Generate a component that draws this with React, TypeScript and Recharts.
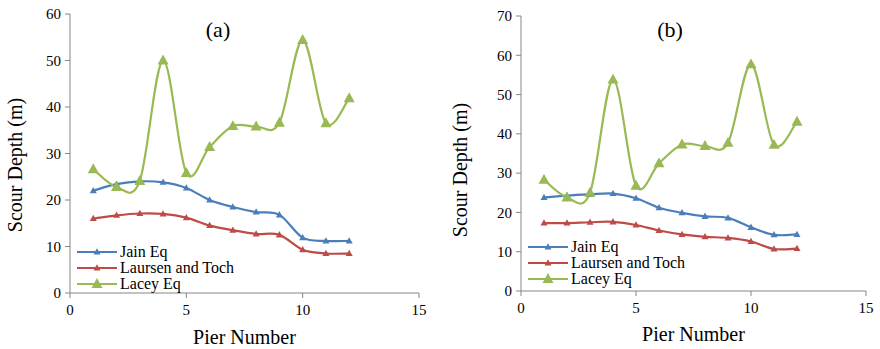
import React from 'react';
import { LineChart, Line, XAxis, YAxis, Legend } from 'recharts';

// pier index on the x axis
const PIERS = [1, 2, 3, 4, 5, 6, 7, 8, 9, 10, 11, 12];

// panel (a)
const JAIN_A = [22.0, 23.4, 24.0, 23.8, 22.6, 20.0, 18.5, 17.4, 16.8, 11.9, 11.2, 11.2];
const LAURSEN_A = [16.0, 16.7, 17.1, 17.0, 16.2, 14.5, 13.5, 12.7, 12.5, 9.3, 8.5, 8.5];
const LACEY_A = [26.6, 22.8, 24.1, 50.0, 25.8, 31.4, 35.9, 35.8, 36.6, 54.4, 36.5, 41.9];

// panel (b)
const JAIN_B = [23.8, 24.3, 24.6, 24.8, 23.6, 21.2, 19.9, 19.0, 18.6, 16.2, 14.3, 14.4];
const LAURSEN_B = [17.3, 17.3, 17.5, 17.6, 16.8, 15.4, 14.4, 13.8, 13.5, 12.6, 10.7, 10.8];
const LACEY_B = [28.3, 23.8, 25.0, 53.8, 26.8, 32.5, 37.3, 36.9, 37.7, 57.7, 37.2, 43.1];

const X_TICKS = [0, 5, 10, 15];
const Y_TICKS_A = [0, 10, 20, 30, 40, 50, 60];
const Y_TICKS_B = [0, 10, 20, 30, 40, 50, 60, 70];

const SERIES = [
  { key: 'jain', name: 'Jain Eq', color: '#4a7ebb', size: 7 },
  { key: 'laursen', name: 'Laursen and Toch', color: '#be4b48', size: 7 },
  { key: 'lacey', name: 'Lacey Eq', color: '#98b954', size: 11 },
];

const FONT = "'Liberation Serif', serif";

const buildRows = (jain: number[], laursen: number[], lacey: number[]) =>
  PIERS.map((p, i) => ({ pier: p, jain: jain[i], laursen: laursen[i], lacey: lacey[i] }));

// excel-like smoothed line (catmull-rom as bezier)
const excelSmooth = (ctx: any) => {
  let pts: number[][] = [];
  return {
    areaStart() {},
    areaEnd() {},
    lineStart() { pts = []; },
    point(x: number, y: number) { pts.push([+x, +y]); },
    lineEnd() {
      if (!pts.length) return;
      ctx.moveTo(pts[0][0], pts[0][1]);
      for (let i = 0; i < pts.length - 1; i++) {
        const p0 = pts[i - 1] || pts[i];
        const p1 = pts[i];
        const p2 = pts[i + 1];
        const p3 = pts[i + 2] || pts[i + 1];
        ctx.bezierCurveTo(
          p1[0] + (p2[0] - p0[0]) / 6, p1[1] + (p2[1] - p0[1]) / 6,
          p2[0] - (p3[0] - p1[0]) / 6, p2[1] - (p3[1] - p1[1]) / 6,
          p2[0], p2[1]
        );
      }
    },
  };
};

const triangle = (cx: number, cy: number, size: number, color: string, key?: any) => {
  const h = size * 0.9;
  return (
    <polygon
      key={key}
      points={`${cx},${cy - h * 0.6} ${cx - size / 2},${cy + h * 0.4} ${cx + size / 2},${cy + h * 0.4}`}
      fill={color}
    />
  );
};

const XTick = (t: any) => (
  <text x={t.x} y={t.y} dy="0.71em" textAnchor="middle" fontSize={15} fill="#000" style={{ fontFamily: FONT }}>
    {t.payload.value}
  </text>
);

const YTick = (t: any) => (
  <text x={t.x} y={t.y} dy="0.35em" textAnchor="end" fontSize={15} fill="#000" style={{ fontFamily: FONT }}>
    {t.payload.value}
  </text>
);

const LegendBox = () => (
  <div style={{ fontFamily: FONT, fontSize: 16, color: '#000', lineHeight: '16px' }}>
    {SERIES.map((s) => (
      <div key={s.key} style={{ display: 'flex', alignItems: 'center', height: 16 }}>
        <svg width={43} height={16} style={{ display: 'block' }}>
          <line x1={0} y1={8} x2={40} y2={8} stroke={s.color} strokeWidth={2.2} />
          {triangle(20, 8, s.size, s.color)}
        </svg>
        <span>{s.name}</span>
      </div>
    ))}
  </div>
);

type PanelProps = {
  rows: any[];
  yMax: number;
  yTicks: number[];
  margin: { top: number; right: number; bottom: number; left: number };
  yAxisWidth: number;
  xAxisHeight: number;
  title: string;
  titlePos: [number, number];
  yLabelPos: [number, number];
  xLabelY: number;
  legendPos: [number, number];
};

const Panel = (p: PanelProps) => (
  <div style={{ position: 'relative', width: 440, height: 349, fontFamily: FONT }}>
    <LineChart width={440} height={349} data={p.rows} margin={p.margin}>
      <XAxis
        dataKey="pier"
        type="number"
        domain={[0, 15]}
        ticks={X_TICKS}
        interval={0}
        axisLine={{ stroke: '#868686' }}
        tickLine={{ stroke: '#868686' }}
        tickSize={5}
        tickMargin={6}
        height={p.xAxisHeight}
        tick={XTick}
        label={{
          content: (lp: any) => (
            <text
              x={lp.viewBox.x + lp.viewBox.width / 2}
              y={p.xLabelY}
              textAnchor="middle"
              dominantBaseline="central"
              fontSize={20}
              fill="#000"
              style={{ fontFamily: FONT }}
            >
              Pier Number
            </text>
          ),
        }}
      />
      <XAxis xAxisId="top" orientation="top" type="number" domain={[0, 15]} tick={false} tickLine={false} height={0} axisLine={{ stroke: '#000', strokeWidth: 1.3 }} />
      <YAxis
        type="number"
        domain={[0, p.yMax]}
        ticks={p.yTicks}
        interval={0}
        width={p.yAxisWidth}
        axisLine={{ stroke: '#868686' }}
        tickLine={{ stroke: '#868686' }}
        tickSize={5}
        tickMargin={4}
        tick={YTick}
        label={{
          content: () => (
            <text
              x={p.yLabelPos[0]}
              y={p.yLabelPos[1]}
              transform={`rotate(-90, ${p.yLabelPos[0]}, ${p.yLabelPos[1]})`}
              textAnchor="middle"
              dominantBaseline="central"
              fontSize={20}
              style={{ fontFamily: FONT }}
              fill="#000"
            >
              Scour Depth  (m)
            </text>
          ),
        }}
      />
      <YAxis yAxisId="right" orientation="right" type="number" domain={[0, p.yMax]} tick={false} tickLine={false} width={0} axisLine={{ stroke: '#000', strokeWidth: 1.3 }} />
      {SERIES.map((s) => (
        <Line
          key={s.key}
          dataKey={s.key}
          name={s.name}
          type={excelSmooth as any}
          stroke={s.color}
          strokeWidth={2.2}
          isAnimationActive={false}
          dot={(d: any) => triangle(d.cx, d.cy, s.size, s.color, `${s.key}-${d.index}`)}
          activeDot={false}
        />
      ))}
      <Legend
        layout="vertical"
        align="center"
        verticalAlign="middle"
        content={() => <LegendBox />}
        wrapperStyle={{ left: p.legendPos[0], top: p.legendPos[1], width: 'auto' }}
      />
    </LineChart>
    <div
      style={{
        position: 'absolute',
        left: p.titlePos[0],
        top: p.titlePos[1],
        transform: 'translate(-50%, -50%)',
        fontFamily: FONT,
        fontSize: 22,
        color: '#000',
        whiteSpace: 'nowrap',
      }}
    >
      {p.title}
    </div>
  </div>
);

export default function App() {
  return (
    <div style={{ position: 'absolute', left: 0, top: 0, width: 880, height: 349, background: '#fff', display: 'flex' }}>
      <Panel
        rows={buildRows(JAIN_A, LAURSEN_A, LACEY_A)}
        yMax={60}
        yTicks={Y_TICKS_A}
        margin={{ top: 14, right: 21, bottom: 0, left: 0 }}
        yAxisWidth={70}
        xAxisHeight={56}
        title="(a)"
        titlePos={[218, 30]}
        yLabelPos={[15, 165]}
        xLabelY={337}
        legendPos={[77, 244]}
      />
      <Panel
        rows={buildRows(JAIN_B, LAURSEN_B, LACEY_B)}
        yMax={70}
        yTicks={Y_TICKS_B}
        margin={{ top: 16, right: 14, bottom: 0, left: 0 }}
        yAxisWidth={81}
        xAxisHeight={58}
        title="(b)"
        titlePos={[230, 30]}
        yLabelPos={[20, 170]}
        xLabelY={334}
        legendPos={[88, 239]}
      />
    </div>
  );
}
